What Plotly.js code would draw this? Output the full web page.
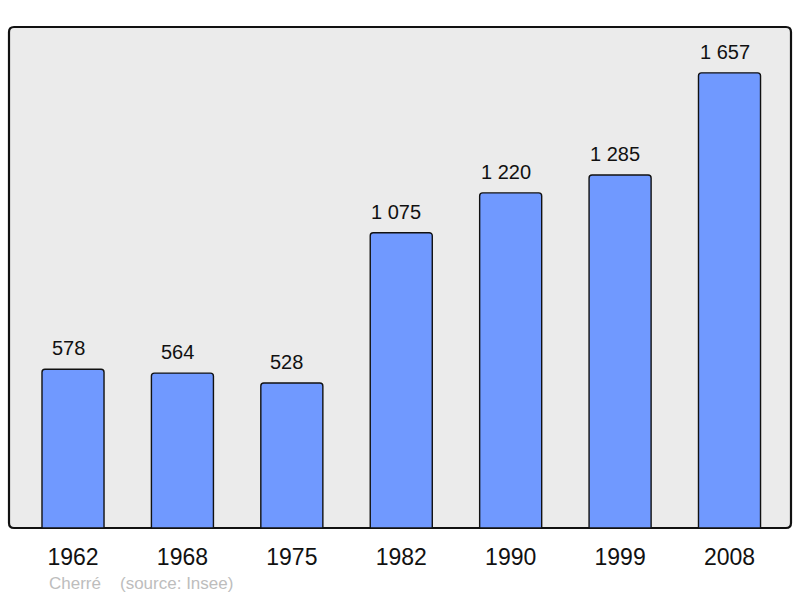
<!DOCTYPE html>
<html>
<head>
<meta charset="utf-8">
<script src="https://cdn.plot.ly/plotly-3.0.1.min.js"></script>
<style>html,body{margin:0;padding:0;background:#fff;}#chart{width:800px;height:598px;}</style>
</head>
<body>
<div id="chart"></div>
<script>
const years = ["1962", "1968", "1975", "1982", "1990", "1999", "2008"];
const population = [578, 564, 528, 1075, 1220, 1285, 1657];
const commune = "Cherré";
const source = "(source: Insee)";

function fmt(v) {
  return String(v).replace(/\B(?=(\d{3})+(?!\d))/g, " ");
}

const trace = {
  type: "bar",
  x: years,
  y: population,
  width: 0.567,
  marker: {color: "#7099ff", line: {color: "#111", width: 1.4}, cornerradius: 3},
  hoverinfo: "skip"
};

const annotations = years.map((yr, i) => ({
  x: i, y: population[i], xref: "x", yref: "y",
  text: fmt(population[i]), showarrow: false,
  yanchor: "bottom", yshift: 8, xshift: -5,
  font: {family: "Liberation Sans, Arial, sans-serif", size: 20, color: "#111"}
}));
annotations.push({
  xref: "paper", yref: "paper", x: 0.048, y: -0.11, xanchor: "left", yanchor: "middle",
  text: commune, showarrow: false,
  font: {family: "Liberation Sans, Arial, sans-serif", size: 17, color: "#bdbdbd"}
});
annotations.push({
  xref: "paper", yref: "paper", x: 0.139, y: -0.11, xanchor: "left", yanchor: "middle",
  text: source, showarrow: false,
  font: {family: "Liberation Sans, Arial, sans-serif", size: 17, color: "#bdbdbd"}
});

// rounded frame in paper coordinates (plot area is 782 x 501 px)
const rx = 5 / 782, ry = 5 / 501;
const framePath = `M ${rx},1 L ${1 - rx},1 Q 1,1 1,${1 - ry} L 1,${ry} Q 1,0 ${1 - rx},0 ` +
  `L ${rx},0 Q 0,0 0,${ry} L 0,${1 - ry} Q 0,1 ${rx},1 Z`;

const layout = {
  width: 800, height: 598,
  margin: {l: 9, r: 9, t: 27, b: 70},
  paper_bgcolor: "#ffffff",
  plot_bgcolor: "#ebebeb",
  showlegend: false,
  xaxis: {
    type: "category", range: [-0.585, 6.562],
    showgrid: false, zeroline: false, showline: false,
    ticks: "", ticklabelstandoff: 13,
    tickfont: {family: "Liberation Sans, Arial, sans-serif", size: 23, color: "#111"}
  },
  yaxis: {
    range: [0, 1824], showgrid: false, zeroline: false, showline: false,
    showticklabels: false, ticks: ""
  },
  shapes: [
    {type: "rect", xref: "paper", yref: "paper", x0: 0, x1: 1, y0: 0, y1: 1,
     line: {width: 0}, fillcolor: "#ffffff", layer: "below"},
    {type: "path", xref: "paper", yref: "paper", path: framePath,
     line: {color: "#111", width: 2.2}, fillcolor: "#ebebeb", layer: "below"}
  ],
  annotations: annotations
};

Plotly.newPlot("chart", [trace], layout, {displayModeBar: false, staticPlot: true});
</script>
</body>
</html>
